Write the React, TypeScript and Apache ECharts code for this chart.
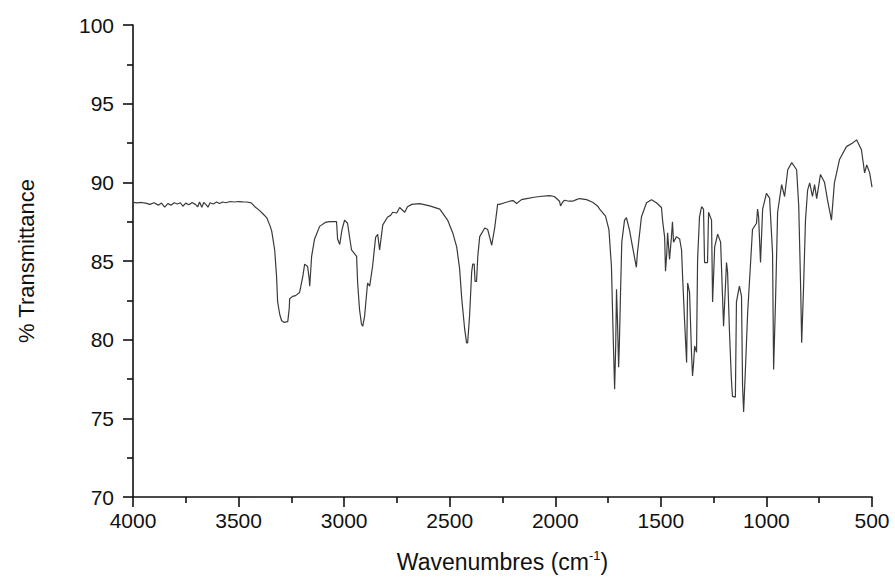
import React, { useEffect, useRef } from "react";
import * as echarts from "echarts";

const wavenumbers: number[] = [
  4000, 3980, 3960, 3940, 3920, 3900, 3880, 3865, 3850, 3835, 3820, 3805, 3790, 3775, 3764, 3750, 3735, 3720, 3705, 3693,
  3685, 3674, 3665, 3655, 3645, 3635, 3620, 3604, 3590, 3575, 3560, 3540, 3520, 3500, 3480, 3460, 3440, 3423, 3400, 3385,
  3367, 3350, 3343, 3329, 3320, 3315, 3305, 3296, 3285, 3267, 3260, 3258, 3244, 3230, 3211, 3196, 3187, 3173, 3165, 3163,
  3154, 3140, 3116, 3090, 3069, 3036, 3031, 3021, 3010, 2998, 2984, 2965, 2941, 2936, 2927, 2918, 2912, 2903, 2889, 2879,
  2865, 2851, 2841, 2832, 2817, 2794, 2780, 2770, 2751, 2737, 2713, 2700, 2680, 2642, 2595, 2547, 2510, 2486, 2467, 2453,
  2443, 2429, 2420, 2415, 2406, 2396, 2391, 2384, 2380, 2373, 2367, 2358, 2334, 2320, 2301, 2287, 2273, 2264, 2240, 2216,
  2200, 2183, 2160, 2136, 2100, 2074, 2027, 2005, 1994, 1980, 1975, 1965, 1956, 1935, 1918, 1900, 1885, 1852, 1823, 1800,
  1790, 1762, 1746, 1734, 1727, 1719, 1714, 1710, 1705, 1700, 1696, 1691, 1685, 1672, 1663, 1649, 1634, 1616, 1611, 1592,
  1568, 1544, 1521, 1497, 1492, 1482, 1478, 1472, 1468, 1459, 1450, 1445, 1440, 1426, 1411, 1402, 1397, 1388, 1378, 1373,
  1364, 1355, 1350, 1345, 1340, 1331, 1326, 1317, 1307, 1298, 1293, 1279, 1274, 1260, 1255, 1245, 1231, 1217, 1212, 1203,
  1189, 1184, 1175, 1166, 1161, 1147, 1142, 1128, 1118, 1113, 1108, 1099, 1089, 1075, 1066, 1047, 1042, 1037, 1028, 1018,
  1000, 985, 971, 966, 957, 947, 928, 914, 899, 880, 857, 847, 838, 833, 824, 815, 805, 795, 782, 772,
  762, 744, 725, 711, 692, 678, 654, 621, 592, 573, 550, 535, 525, 511, 500,
];

const transmittance: number[] = [
  88.72, 88.7, 88.72, 88.68, 88.6, 88.7, 88.55, 88.68, 88.42, 88.65, 88.55, 88.7, 88.62, 88.7, 88.48, 88.68, 88.58, 88.72, 88.6, 88.45,
  88.75, 88.42, 88.72, 88.6, 88.42, 88.7, 88.62, 88.75, 88.65, 88.75, 88.7, 88.78, 88.75, 88.78, 88.76, 88.75, 88.7, 88.45, 88.2, 88.0,
  87.76, 87.2, 86.9, 85.7, 84.0, 82.4, 81.6, 81.2, 81.1, 81.15, 82.0, 82.6, 82.75, 82.8, 83.0, 84.0, 84.8, 84.65, 83.8, 83.4,
  85.3, 86.4, 87.2, 87.45, 87.5, 87.5, 86.4, 86.05, 87.0, 87.6, 87.4, 85.7, 85.3, 83.6, 81.9, 81.0, 80.85, 81.5, 83.6, 83.4,
  84.7, 86.5, 86.7, 85.7, 87.3, 87.8, 87.9, 88.1, 88.05, 88.4, 88.1, 88.45, 88.6, 88.65, 88.5, 88.3, 87.6, 86.8, 85.9, 84.5,
  82.6, 80.65, 79.8, 79.8, 81.5, 84.3, 84.8, 84.8, 83.7, 83.7, 85.3, 86.55, 87.1, 87.0, 86.0, 87.1, 88.6, 88.6, 88.7, 88.8,
  88.84, 88.65, 88.9, 88.97, 89.05, 89.1, 89.16, 89.1, 88.97, 88.8, 88.5, 88.75, 88.86, 88.8, 88.8, 88.9, 88.97, 88.9, 88.73, 88.5,
  88.3, 87.85, 87.0, 84.65, 80.85, 76.85, 79.5, 83.2, 81.0, 78.25, 80.0, 83.0, 86.2, 87.6, 87.75, 87.0, 85.9, 84.6, 85.5, 87.8,
  88.7, 88.9, 88.7, 88.4, 87.6, 86.5, 84.35, 85.5, 86.8, 85.1, 86.5, 87.5, 86.2, 86.55, 86.4, 85.7, 84.0, 81.3, 78.55, 83.6,
  83.0, 79.2, 77.7, 78.5, 79.6, 79.2, 85.1, 87.8, 88.45, 88.3, 84.9, 84.9, 88.1, 87.6, 82.4, 85.9, 86.7, 86.2, 84.3, 80.85,
  84.9, 84.3, 80.5, 77.5, 76.4, 76.35, 82.4, 83.4, 82.75, 77.05, 75.4, 78.3, 81.7, 84.9, 87.0, 87.4, 88.3, 87.8, 84.9, 88.3,
  89.3, 89.0, 85.5, 78.1, 82.4, 88.1, 89.85, 89.1, 90.8, 91.25, 90.8, 88.5, 83.4, 79.8, 83.4, 87.6, 89.5, 89.97, 89.1, 89.85,
  88.97, 90.5, 90.0, 88.9, 87.6, 89.97, 91.45, 92.27, 92.5, 92.7, 92.07, 90.6, 91.1, 90.6, 89.7,
];

const xTicks = { min: 500, max: 4000, interval: 500 };
const yTicks = { min: 70, max: 100, interval: 5 };

export default function App() {
  const ref = useRef<HTMLDivElement>(null);
  useEffect(() => {
    if (!ref.current) return;
    const chart = echarts.init(ref.current, null, { renderer: "svg" });
    const data = wavenumbers.map((w, i) => [w, transmittance[i]]);
    const font = "Liberation Sans, Arial, sans-serif";
    chart.setOption({
      animation: false,
      backgroundColor: "#ffffff",
      grid: { left: 133, right: 23, top: 25, bottom: 80, containLabel: false },
      xAxis: {
        type: "value",
        inverse: true,
        min: xTicks.min,
        max: xTicks.max,
        interval: xTicks.interval,
        name: "Wavenumbres (cm{sup|-1})",
        nameLocation: "middle",
        nameGap: 52,
        nameTextStyle: {
          fontFamily: font,
          fontSize: 23,
          color: "#111",
          rich: {
            sup: { fontFamily: font, fontSize: 13, color: "#111", verticalAlign: "top", padding: [0, 0, 12, 0] },
          },
        },
        axisLine: { show: true, onZero: false, lineStyle: { color: "#111", width: 1.6 } },
        axisTick: { show: true, inside: false, length: 10, lineStyle: { color: "#111", width: 1.6 } },
        minorTick: { show: true, splitNumber: 2, length: 6, lineStyle: { color: "#111", width: 1.6 } },
        splitLine: { show: false },
        axisLabel: { fontFamily: font, fontSize: 21, color: "#111", margin: 13, formatter: (v: number) => String(v) },
      },
      yAxis: {
        type: "value",
        min: yTicks.min,
        max: yTicks.max,
        interval: yTicks.interval,
        name: "% Transmittance",
        nameLocation: "middle",
        nameGap: 96,
        nameTextStyle: { fontFamily: font, fontSize: 22, color: "#111" },
        axisLine: { show: true, onZero: false, lineStyle: { color: "#111", width: 1.6 } },
        axisTick: { show: true, inside: false, length: 10, lineStyle: { color: "#111", width: 1.6 } },
        minorTick: { show: true, splitNumber: 2, length: 6, lineStyle: { color: "#111", width: 1.6 } },
        splitLine: { show: false },
        axisLabel: { fontFamily: font, fontSize: 21, color: "#111", margin: 19, formatter: (v: number) => String(v) },
      },
      series: [
        {
          type: "line",
          data,
          showSymbol: false,
          symbol: "none",
          smooth: false,
          lineStyle: { color: "#3a3a3a", width: 1.2 },
        },
      ],
    });
    return () => chart.dispose();
  }, []);
  return <div ref={ref} style={{ position: "fixed", left: 0, top: 0, width: 895, height: 578 }} />;
}
